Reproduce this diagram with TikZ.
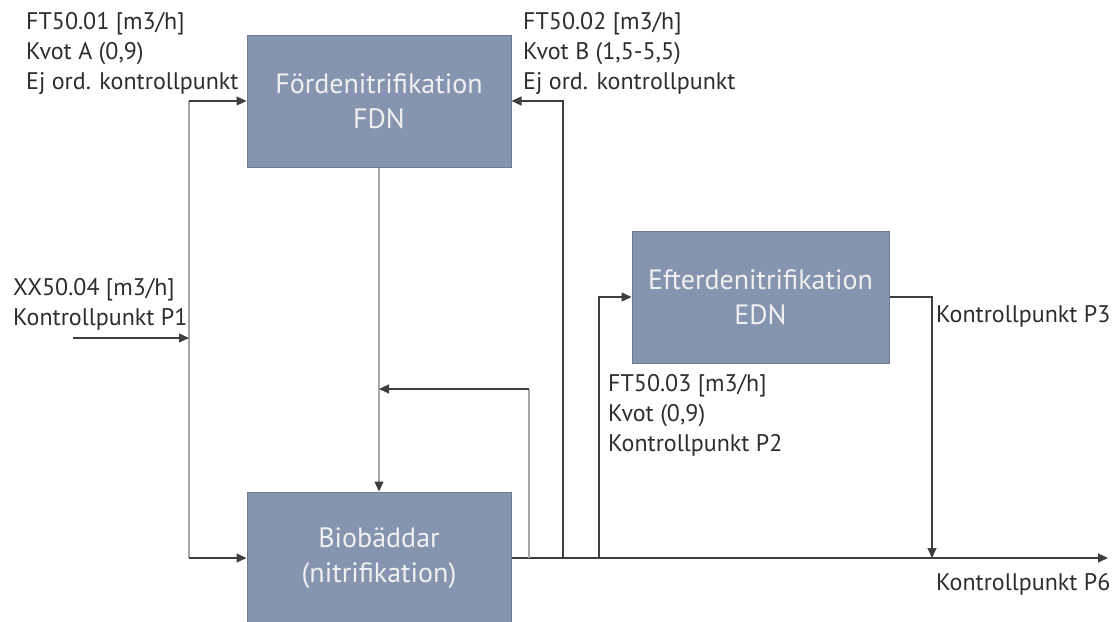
\documentclass[tikz,border=0pt]{standalone}
\usepackage{fontspec}
\setmainfont{PT Sans}
\usetikzlibrary{arrows.meta,positioning}
\definecolor{boxfill}{RGB}{133,148,175}
\definecolor{boxedge}{RGB}{108,122,150}
\definecolor{darkline}{RGB}{62,62,62}
\definecolor{lightline}{RGB}{165,165,165}
\definecolor{labeltext}{RGB}{45,45,45}
\newcommand{\labelfont}{\fontsize{24}{30}\selectfont}
\newcommand{\blockfont}{\fontsize{28}{35}\selectfont}
\tikzset{
  procbox/.style={draw=boxedge, line width=1pt, fill=boxfill, text=white!94!black,
    align=center, font=\blockfont, inner sep=0pt},
  tag/.style={align=left, font=\labelfont, text=labeltext, inner sep=0pt, anchor=north west},
  flow/.style={draw=darkline, line width=1.2pt, -{Triangle[length=10pt,width=9pt]}},
  lightflow/.style={draw=lightline, line width=1.2pt,
    -{Triangle[length=10pt,width=9pt,color=darkline]}},
  feed/.style={draw=lightline, line width=1.2pt}
}
\begin{document}
\begin{tikzpicture}[x=1pt,y=-1pt]
  \useasboundingbox (0,0) rectangle (1115,621);

  % process blocks
  \node[procbox, minimum width=264pt, minimum height=132pt] (fdn) at (379,101)
    {Fördenitrifikation\\FDN};
  \node[procbox, minimum width=264pt, minimum height=132pt] (bio) at (379,558)
    {Biobäddar\\(nitrifikation)};
  \node[procbox, minimum width=257pt, minimum height=132pt] (edn) at (760.5,297)
    {Efterdenitrifikation\\EDN};

  % junction points
  \coordinate (src) at (73,338);
  \coordinate (leftbus) at (189,338);
  \coordinate (retlevel) at (0,389);
  \coordinate (ret) at (529,558);
  \coordinate (fdnret) at (563,558);
  \coordinate (ednin) at (599,558);
  \coordinate (ednout) at (932,558);
  \coordinate (out) at (1108,558);

  % connectors
  \draw[feed] (leftbus) -- (leftbus |- fdn.west);
  \draw[feed] (leftbus) -- (leftbus |- bio.west);
  \draw[flow] (src) -- (leftbus);
  \draw[flow] (leftbus |- fdn.west) -- (fdn.west);
  \draw[flow] (leftbus |- bio.west) -- (bio.west);
  \draw[lightflow] (fdn.south) -- (bio.north);
  \draw[flow] (bio.east) -- (out);
  \draw[feed] (ret) -- (ret |- retlevel);
  \draw[flow] (ret |- retlevel) -- (fdn.south |- retlevel);
  \draw[flow] (fdnret) |- (fdn.east);
  \draw[flow] (ednin) |- (edn.west);
  \draw[flow] (edn.east) -| (ednout);

  % measurement labels
  \node[tag] (ft1) at (26,12) {FT50.01 [m3/h]\\Kvot A (0,9)\\Ej ord. kontrollpunkt};
  \node[tag] (ft2) at (523,12) {FT50.02 [m3/h]\\Kvot B (1,5-5,5)\\Ej ord. kontrollpunkt};
  \node[tag] (xx4) at (13,278) {XX50.04 [m3/h]\\Kontrollpunkt P1};
  \node[tag] (ft3) at (608,374) {FT50.03 [m3/h]\\Kvot (0,9)\\Kontrollpunkt P2};
  \node[tag] (p3) at (936,305) {Kontrollpunkt P3};
  \node[tag] (p6) at (936,573) {Kontrollpunkt P6};
\end{tikzpicture}
\end{document}
